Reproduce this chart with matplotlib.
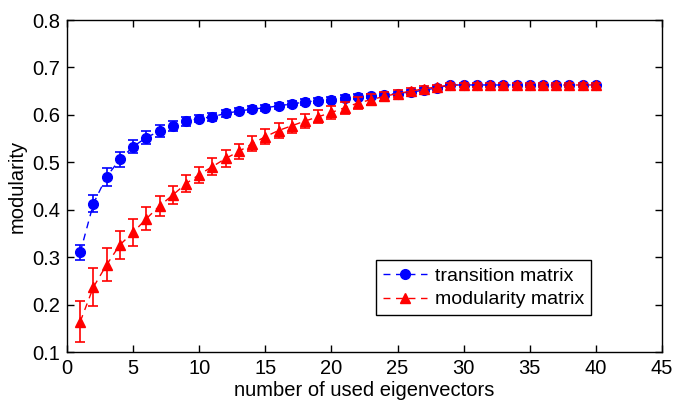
import matplotlib
matplotlib.use("Agg")
import matplotlib.pyplot as plt
import numpy as np

plt.rcParams['font.family'] = ['Liberation Sans', 'DejaVu Sans']

x = list(range(1, 41))

transition_mean = [0.310, 0.413, 0.470, 0.506, 0.533, 0.552, 0.566, 0.577, 0.586, 0.592,
                   0.596, 0.603, 0.608, 0.612, 0.615, 0.619, 0.623, 0.627, 0.630, 0.632,
                   0.636, 0.638, 0.640, 0.642, 0.645, 0.648, 0.652, 0.657, 0.663, 0.663,
                   0.663, 0.663, 0.663, 0.663, 0.663, 0.663, 0.663, 0.663, 0.663, 0.663]
transition_err = [0.016, 0.018, 0.019, 0.016, 0.014, 0.013, 0.012, 0.010, 0.009, 0.008,
                  0.008, 0.007, 0.007, 0.007, 0.006, 0.006, 0.006, 0.006, 0.005, 0.005,
                  0.005, 0.005, 0.005, 0.005, 0.004, 0.004, 0.004, 0.004, 0.003, 0.003,
                  0.003, 0.003, 0.003, 0.003, 0.003, 0.003, 0.003, 0.003, 0.003, 0.003]

modularity_mean = [0.164, 0.237, 0.284, 0.326, 0.352, 0.381, 0.408, 0.431, 0.455, 0.474,
                   0.491, 0.508, 0.523, 0.539, 0.554, 0.567, 0.577, 0.587, 0.596, 0.605,
                   0.615, 0.625, 0.632, 0.639, 0.645, 0.650, 0.655, 0.659, 0.663, 0.663,
                   0.663, 0.663, 0.663, 0.663, 0.663, 0.663, 0.663, 0.663, 0.663, 0.663]
modularity_err = [0.043, 0.040, 0.035, 0.030, 0.028, 0.024, 0.021, 0.019, 0.018, 0.017,
                  0.017, 0.017, 0.016, 0.016, 0.016, 0.015, 0.015, 0.014, 0.014, 0.014,
                  0.013, 0.012, 0.011, 0.010, 0.008, 0.007, 0.006, 0.005, 0.004, 0.004,
                  0.004, 0.004, 0.004, 0.004, 0.004, 0.004, 0.004, 0.004, 0.004, 0.004]

fig = plt.figure(figsize=(6.75, 4.0), dpi=100)
ax = fig.add_axes([67/675, 1 - 352/400, (662-67)/675, (352-20)/400])

dash = (5, 4)
ax.errorbar(x, transition_mean, yerr=transition_err, fmt='none', ecolor='#0000ff',
            elinewidth=1.2, capsize=3.5, capthick=1.2, zorder=2)
ax.plot(x, transition_mean, color='#0000ff', linestyle='--', dashes=dash, linewidth=1.0,
        marker='o', markersize=7, markeredgecolor='#0000ff', markerfacecolor='#0000ff',
        label='transition matrix', zorder=3)
ax.errorbar(x, modularity_mean, yerr=modularity_err, fmt='none', ecolor='#ff0000',
            elinewidth=1.2, capsize=3.5, capthick=1.2, zorder=4)
ax.plot(x, modularity_mean, color='#ff0000', linestyle='--', dashes=dash, linewidth=1.0,
        marker='^', markersize=7.5, markeredgecolor='#ff0000', markerfacecolor='#ff0000',
        label='modularity matrix', zorder=5)

ax.set_xlim(0, 45)
ax.set_ylim(0.1, 0.8)
ax.set_xticks(np.arange(0, 46, 5))
ax.set_yticks(np.round(np.arange(0.1, 0.81, 0.1), 1))
ax.set_yticklabels(['0.1', '0.2', '0.3', '0.4', '0.5', '0.6', '0.7', '0.8'])
ax.tick_params(direction='in', top=True, right=True, length=5, width=1.0,
               labelsize=14.5, pad=5)
for s in ax.spines.values():
    s.set_linewidth(1.0)
ax.set_xlabel('number of used eigenvectors', fontsize=14.5, labelpad=2)
ax.set_ylabel('modularity', fontsize=14.5, labelpad=4)

leg = ax.legend(loc='lower right', bbox_to_anchor=(0.881, 0.111), borderaxespad=0,
                fancybox=False, edgecolor='black', framealpha=1, fontsize=14,
                handlelength=2.3, handletextpad=0.4, borderpad=0.35, labelspacing=0.3)
leg.get_frame().set_linewidth(1.0)

fig.savefig('out.png', dpi=100)
